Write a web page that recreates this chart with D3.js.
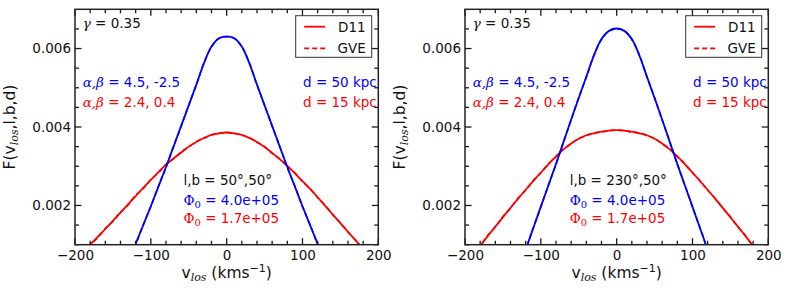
<!DOCTYPE html>
<html>
<head>
<meta charset="utf-8">
<script src="https://cdn.jsdelivr.net/npm/d3@7"></script>
<style>
  body { margin: 0; background: #fff; }
  svg { display: block; }
  text { font-family: "DejaVu Sans", sans-serif; }
  .math { font-family: "DejaVu Serif", serif; font-style: italic; }
</style>
</head>
<body>
<svg id="fig" width="789" height="296"></svg>
<script>
// line-of-sight velocity grid (km/s)
const vlos = [-200, -190, -180, -170, -160, -150, -140, -130, -120, -110, -100, -90, -80, -70, -60, -50, -40, -30, -20, -10,
  0, 10, 20, 30, 40, 50, 60, 70, 80, 90, 100, 110, 120, 130, 140, 150, 160, 170, 180, 190, 200];

// F values in units of 1e-3
const yUnit = 1e-3;

// panel 1: l,b = 50,50
const redD11_1 = [null, 0.80, 1.00, 1.20, 1.40, 1.61, 1.82, 2.03, 2.24, 2.45, 2.65, 2.85, 3.04, 3.20, 3.35, 3.50, 3.62, 3.72, 3.80, 3.84,
  3.86, 3.84, 3.80, 3.72, 3.62, 3.49, 3.34, 3.18, 3.01, 2.82, 2.62, 2.42, 2.21, 1.99, 1.77, 1.55, 1.33, 1.11, 0.89, null, null];
const redGVE_1 = [null, 0.78, 0.99, 1.18, 1.42, 1.59, 1.83, 2.01, 2.26, 2.43, 2.66, 2.83, 3.05, 3.19, 3.36, 3.49, 3.63, 3.71, 3.80, 3.84,
  3.86, 3.84, 3.79, 3.73, 3.61, 3.50, 3.33, 3.19, 3.00, 2.83, 2.61, 2.43, 2.20, 2.00, 1.76, 1.56, 1.32, 1.12, 0.87, null, null];
const blueD11_1 = [null, null, null, null, null, null, null, 0.55, 1.02, 1.50, 1.98, 2.48, 2.98, 3.50, 4.03, 4.55, 5.08, 5.62, 6.05, 6.26,
  6.31, 6.26, 6.05, 5.62, 5.08, 4.55, 4.03, 3.50, 2.98, 2.48, 1.98, 1.50, 1.02, 0.55, null, null, null, null, null, null, null];
const blueGVE_1 = [null, null, null, null, null, null, null, 0.54, 1.01, 1.51, 1.97, 2.49, 2.97, 3.51, 4.02, 4.56, 5.07, 5.63, 6.04, 6.26,
  6.30, 6.26, 6.04, 5.63, 5.07, 4.56, 4.02, 3.51, 2.97, 2.49, 1.97, 1.51, 1.01, 0.54, null, null, null, null, null, null, null];

// panel 2: l,b = 230,50
const redD11_2 = [null, 0.73, 0.97, 1.22, 1.46, 1.70, 1.94, 2.17, 2.40, 2.62, 2.84, 3.05, 3.25, 3.43, 3.58, 3.70, 3.79, 3.84, 3.88, 3.91,
  3.92, 3.91, 3.88, 3.84, 3.79, 3.70, 3.58, 3.43, 3.25, 3.05, 2.84, 2.62, 2.40, 2.17, 1.94, 1.70, 1.46, 1.22, 0.97, 0.73, null];
const redGVE_2 = [null, 0.71, 0.96, 1.24, 1.45, 1.72, 1.93, 2.19, 2.39, 2.64, 2.83, 3.06, 3.24, 3.44, 3.57, 3.71, 3.78, 3.85, 3.87, 3.91,
  3.92, 3.91, 3.87, 3.85, 3.78, 3.71, 3.57, 3.44, 3.24, 3.06, 2.83, 2.63, 2.39, 2.18, 1.93, 1.71, 1.45, 1.23, 0.96, 0.72, null];
const blueD11_2 = [null, null, null, null, null, null, null, 0.40, 0.88, 1.42, 1.97, 2.51, 3.06, 3.62, 4.19, 4.74, 5.28, 5.82, 6.24, 6.45,
  6.51, 6.45, 6.24, 5.82, 5.28, 4.74, 4.19, 3.62, 3.06, 2.51, 1.97, 1.42, 0.88, 0.40, null, null, null, null, null, null, null];
const blueGVE_2 = [null, null, null, null, null, null, null, 0.39, 0.87, 1.43, 1.96, 2.52, 3.05, 3.63, 4.18, 4.75, 5.27, 5.83, 6.23, 6.45,
  6.50, 6.45, 6.23, 5.83, 5.27, 4.75, 4.18, 3.63, 3.05, 2.52, 1.96, 1.43, 0.87, 0.39, null, null, null, null, null, null, null];

const xTicks = [-200, -100, 0, 100, 200];
const yTicks = [0.002, 0.004, 0.006];
const legendLabels = ["D11", "GVE"];
const panelLB = ["50°,50°", "230°,50°"];

const panels = [
  { left: 75, lb: panelLB[0], red: [redD11_1, redGVE_1], blue: [blueD11_1, blueGVE_1] },
  { left: 465, lb: panelLB[1], red: [redD11_2, redGVE_2], blue: [blueD11_2, blueGVE_2] }
];

const W = 303.3, axTop = 9.3, H = 235.4;
const RED = "#ff0000", BLUE = "#0000ff", INK = "#111";
const svg = d3.select("#fig");

const x = d3.scaleLinear().domain([-200, 200]).range([0, W]);
const y = d3.scaleLinear().domain([0.001, 0.007]).range([H, 0]);
const xMinor = d3.range(-200, 201, 20).filter(v => v % 100 !== 0);
const yMinor = d3.range(2, 14).map(i => i * 0.0005).filter(v => !yTicks.some(t => Math.abs(t - v) < 1e-9));

function fmtX(d) { return d < 0 ? "\u2212" + Math.abs(d) : String(d); }

panels.forEach((p, pi) => {
  const g = svg.append("g").attr("transform", `translate(${p.left},${axTop})`);

  g.append("clipPath").attr("id", "clip" + pi)
    .append("rect").attr("width", W).attr("height", H);

  const plot = g.append("g").attr("clip-path", `url(#clip${pi})`);

  const line = d3.line()
    .defined(d => d[1] !== null)
    .x(d => x(d[0]))
    .y(d => y(d[1] * yUnit))
    .curve(d3.curveCatmullRom);

  function drawSeries(vals, color, dashed) {
    plot.append("path")
      .datum(vlos.map((v, i) => [v, vals[i]]))
      .attr("d", line)
      .attr("fill", "none")
      .attr("stroke", color)
      .attr("stroke-width", dashed ? 1.6 : 1.8)
      .attr("stroke-dasharray", dashed ? "5,3" : null);
  }
  drawSeries(p.red[0], RED, false);
  drawSeries(p.red[1], RED, true);
  drawSeries(p.blue[0], BLUE, false);
  drawSeries(p.blue[1], BLUE, true);

  // tick labels from d3 axes (no tick lines)
  const xa = g.append("g").attr("transform", `translate(0,${H})`)
    .call(d3.axisBottom(x).tickValues(xTicks).tickSize(0).tickPadding(6).tickFormat(fmtX));
  const ya = g.append("g")
    .call(d3.axisLeft(y).tickValues(yTicks).tickSize(0).tickPadding(4).tickFormat(d3.format(".3f")));
  [xa, ya].forEach(a => {
    a.select(".domain").remove();
    a.selectAll("line").remove();
    a.selectAll("text").attr("font-size", "13.5px").attr("fill", INK)
      .attr("font-family", "DejaVu Sans, sans-serif");
  });

  // inward ticks on all four sides
  const tk = g.append("g");
  function tick(x1, y1, x2, y2) {
    tk.append("line").attr("x1", x1).attr("y1", y1).attr("x2", x2).attr("y2", y2)
      .attr("stroke", "#1a1a1a").attr("stroke-width", 1.3);
  }
  function xt(vals, len) {
    vals.forEach(v => {
      const px = x(v);
      tick(px, H, px, H - len);
      tick(px, 0, px, len);
    });
  }
  function yt(vals, len) {
    vals.forEach(v => {
      const py = y(v);
      tick(0, py, len, py);
      tick(W, py, W - len, py);
    });
  }
  xt(xTicks, 6.5); xt(xMinor, 4);
  yt(yTicks, 6.5); yt(yMinor, 4);

  g.append("rect").attr("width", W).attr("height", H)
    .attr("fill", "none").attr("stroke", "#222").attr("stroke-width", 1.5);

  // axis labels
  const xl = g.append("text").attr("x", W / 2).attr("y", H + 33.5)
    .attr("text-anchor", "middle").attr("font-size", "15.5px").attr("fill", INK);
  xl.append("tspan").text("v");
  xl.append("tspan").attr("class", "math").attr("font-size", "11px").attr("dy", 3).text("los");
  xl.append("tspan").attr("dy", -3).text(" (kms");
  xl.append("tspan").attr("font-size", "11px").attr("dy", -6).text("\u22121");
  xl.append("tspan").attr("dy", 6).text(")");

  const yl = g.append("text")
    .attr("transform", `translate(${-60},${H / 2}) rotate(-90)`)
    .attr("text-anchor", "middle").attr("font-size", "15.5px").attr("fill", INK);
  yl.append("tspan").text("F(v");
  yl.append("tspan").attr("class", "math").attr("font-size", "11px").attr("dy", 3).text("los");
  yl.append("tspan").attr("dy", -3).text(",l,b,d)");

  // annotations
  const fs = "13.5px";
  g.append("text").attr("x", 7.7).attr("y", 19).attr("font-size", fs).attr("fill", INK)
    .call(t => { t.append("tspan").attr("class", "math").text("\u03b3"); t.append("tspan").text(" = 0.35"); });

  function ab(yy, color, txt) {
    const t = g.append("text").attr("x", 7.7).attr("y", yy).attr("font-size", fs).attr("fill", color);
    t.append("tspan").attr("class", "math").text("\u03b1,\u03b2");
    t.append("tspan").text(txt);
  }
  ab(78, BLUE, " = 4.5, -2.5");
  ab(98, RED, " = 2.4, 0.4");

  g.append("text").attr("x", W - 1.5).attr("y", 78).attr("text-anchor", "end")
    .attr("font-size", fs).attr("fill", BLUE).text("d = 50 kpc");
  g.append("text").attr("x", W - 1.5).attr("y", 98).attr("text-anchor", "end")
    .attr("font-size", fs).attr("fill", RED).text("d = 15 kpc");

  const ax = x(pi === 0 ? -57 : -62);
  g.append("text").attr("x", ax).attr("y", 175.5).attr("font-size", fs).attr("fill", INK).text("l,b = " + p.lb);
  function phi(yy, color, txt) {
    const t = g.append("text").attr("x", ax).attr("y", yy).attr("font-size", fs).attr("fill", color);
    t.append("tspan").attr("font-family", "DejaVu Serif, serif").text("\u03a6");
    t.append("tspan").attr("font-family", "DejaVu Serif, serif").attr("font-size", "10px").attr("dy", 3).text("0");
    t.append("tspan").attr("dy", -3).text(txt);
  }
  phi(195.5, BLUE, " = 4.0e+05");
  phi(214, RED, " = 1.7e+05");

  // legend
  const lg = g.append("g").attr("transform", `translate(${W - 82.6},${6.4})`);
  lg.append("rect").attr("width", 76).attr("height", 41.6)
    .attr("fill", "#fff").attr("stroke", "#333").attr("stroke-width", 1);
  legendLabels.forEach((lab, i) => {
    const yy = 11 + i * 21.6;
    lg.append("line").attr("x1", 8.5).attr("x2", 29.5).attr("y1", yy).attr("y2", yy)
      .attr("stroke", RED).attr("stroke-width", 1.8)
      .attr("stroke-dasharray", i === 1 ? "5,3" : null);
    lg.append("text").attr("x", 70).attr("y", yy + 5).attr("text-anchor", "end")
      .attr("font-size", fs).attr("fill", INK).text(lab);
  });
});
</script>
</body>
</html>
